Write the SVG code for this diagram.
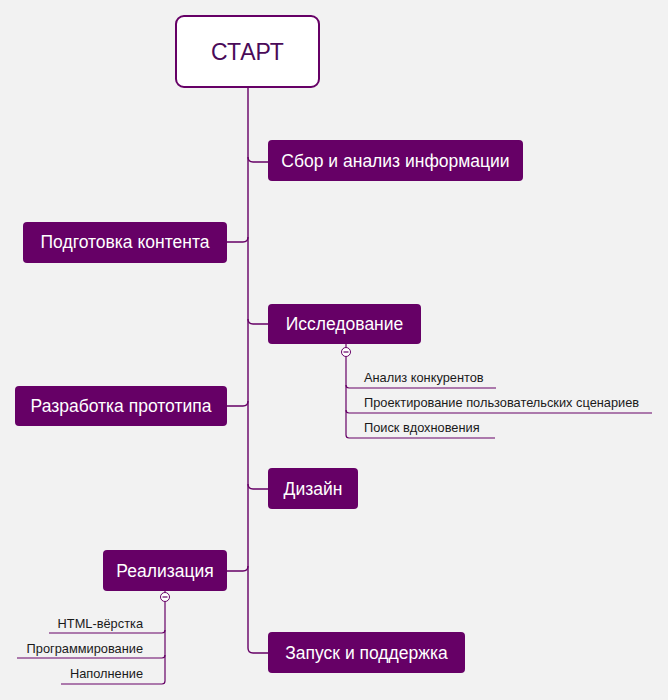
<svg xmlns="http://www.w3.org/2000/svg" width="668" height="700" viewBox="0 0 668 700">
<style>
.bg{fill:#f2f2f2}
.topic rect{fill:#660066}
.topic text{fill:#ffffff;font-family:"Liberation Sans","DejaVu Sans",sans-serif;font-size:17.5px;text-anchor:middle}
.sub text{fill:#1a1a1a;font-family:"Liberation Sans","DejaVu Sans",sans-serif;font-size:12.8px}
.line{fill:none;stroke:#660066;stroke-width:1.4}
.thin{fill:none;stroke:#660066;stroke-width:1.2}
.tog{fill:#ffffff;stroke:#660066;stroke-width:1}
</style>
<rect class="bg" x="0" y="0" width="668" height="700"/>
<g id="connectors">
<path class="line" d="M248,87 V648 Q248,653 253,653 H268"/>
<path class="line" d="M248,157 Q248,162 253,162 H268"/>
<path class="line" d="M227,242 H243 Q248,242 248,237"/>
<path class="line" d="M248,319 Q248,324 253,324 H268"/>
<path class="line" d="M227,406 H243 Q248,406 248,401"/>
<path class="line" d="M248,484 Q248,489 253,489 H268"/>
<path class="line" d="M227,571 H243 Q248,571 248,566"/>
<path class="thin" d="M346,344 V347"/>
<path class="thin" d="M346,357 V435 Q346,438 349,438 H495"/>
<path class="thin" d="M346,385 Q346,388 349,388 H496"/>
<path class="thin" d="M346,410 Q346,413 349,413 H652"/>
<path class="thin" d="M165,591 V592"/>
<path class="thin" d="M165,602 V681 Q165,684 162,684 H61"/>
<path class="thin" d="M165,630 Q165,633 162,633 H49"/>
<path class="thin" d="M165,655 Q165,658 162,658 H17"/>
<circle class="tog" cx="346" cy="352" r="4.5"/>
<path class="thin" d="M343.5,352 H348.5"/>
<circle class="tog" cx="165" cy="597" r="4.5"/>
<path class="thin" d="M162.5,597 H167.5"/>
</g>
<g id="start">
<rect x="176" y="16" width="143" height="71" rx="8" fill="#ffffff" stroke="#660066" stroke-width="2"/>
<text x="247.5" y="60" font-family="Liberation Sans, DejaVu Sans, sans-serif" font-size="23" fill="#4a0a58" text-anchor="middle">СТАРТ</text>
</g>
<g id="n-sbor" class="topic">
<rect x="268" y="140" width="255" height="41" rx="4"/>
<text x="395.5" y="167">Сбор и анализ информации</text>
</g>
<g id="n-podgotovka" class="topic">
<rect x="23" y="222" width="204" height="41" rx="4"/>
<text x="125" y="248">Подготовка контента</text>
</g>
<g id="n-issled" class="topic">
<rect x="268" y="304" width="153" height="40" rx="4"/>
<text x="344.5" y="330">Исследование</text>
</g>
<g id="n-razrab" class="topic">
<rect x="15" y="386" width="212" height="40" rx="4"/>
<text x="121" y="412">Разработка прототипа</text>
</g>
<g id="n-dizain" class="topic">
<rect x="268" y="468" width="90" height="41" rx="4"/>
<text x="313" y="495">Дизайн</text>
</g>
<g id="n-realiz" class="topic">
<rect x="103" y="550" width="124" height="41" rx="4"/>
<text x="165" y="577">Реализация</text>
</g>
<g id="n-zapusk" class="topic">
<rect x="268" y="632" width="197" height="41" rx="4"/>
<text x="366.5" y="659">Запуск и поддержка</text>
</g>
<g id="s-analiz" class="sub"><text x="364" y="382">Анализ конкурентов</text></g>
<g id="s-proekt" class="sub"><text x="364" y="407">Проектирование пользовательских сценариев</text></g>
<g id="s-poisk" class="sub"><text x="364" y="432">Поиск вдохновения</text></g>
<g id="s-html" class="sub"><text x="143" y="628" text-anchor="end">HTML-вёрстка</text></g>
<g id="s-prog" class="sub"><text x="143" y="653" text-anchor="end">Программирование</text></g>
<g id="s-napoln" class="sub"><text x="143" y="678" text-anchor="end">Наполнение</text></g>
</svg>
